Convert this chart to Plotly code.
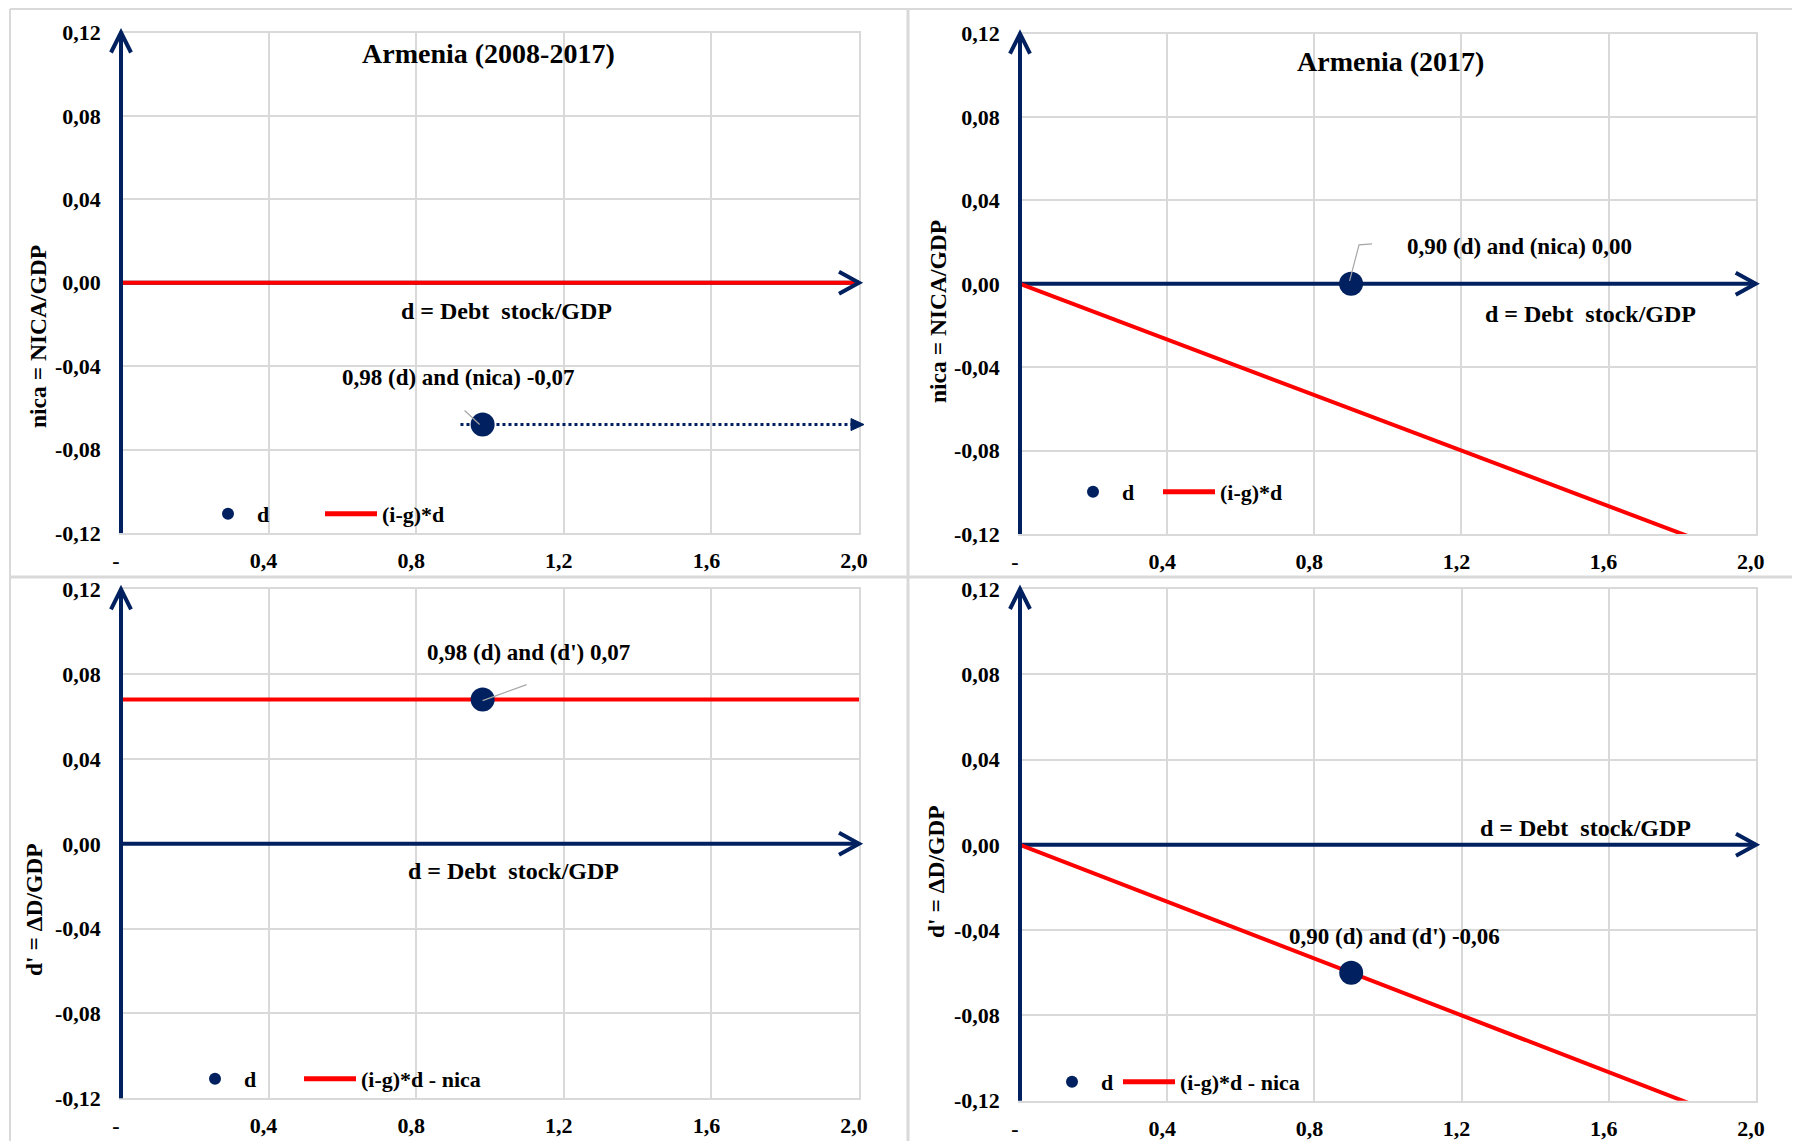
import plotly.graph_objects as go

# figure is placed by the browser with an 8px body margin
OFF = 8
FW, FH = 1800, 1141

# ---------------- data ----------------
x_tickvals = [0.0, 0.4, 0.8, 1.2, 1.6, 2.0]
x_ticktext = ["-", "0,4", "0,8", "1,2", "1,6", "2,0"]
y_tickvals = [-0.12, -0.08, -0.04, 0.0, 0.04, 0.08, 0.12]
y_ticktext = ["-0,12", "-0,08", "-0,04", "0,00", "0,04", "0,08", "0,12"]

line_x = [0.0, 2.0]

# Panel 1: Armenia (2008-2017), nica vs d
p1_d = [0.98]
p1_nica = [-0.068]
p1_line = [0.0, 0.0]            # (i-g)*d
# Panel 2: Armenia (2017), nica vs d
p2_d = [0.90]
p2_nica = [0.00]
p2_line = [0.0, -0.1333]        # (i-g)*d
# Panel 3: Armenia (2008-2017), d' vs d
p3_d = [0.98]
p3_dprime = [0.068]
p3_line = [0.068, 0.068]        # (i-g)*d - nica
# Panel 4: Armenia (2017), d' vs d
p4_d = [0.90]
p4_dprime = [-0.06]
p4_line = [0.0, -0.1333]        # (i-g)*d - nica

XR = [0.0, 2.0]
YR = [-0.12, 0.12]

NAVY = "#002060"
RED = "#ff0000"
GRID = "#d9d9d9"
FONT = "Liberation Serif"


def fx(v):
    return (v - XR[0]) / (XR[1] - XR[0])


def fy(v):
    return (v - YR[0]) / (YR[1] - YR[0])


def px(xp):
    return (xp - OFF) / FW


def py(yp):
    return 1 - (yp - OFF) / FH


def bold(size):
    return dict(family=FONT, size=size, color="black", weight="bold")


panels = [
    dict(n="", left=121, right=859, top=32.5, bottom=533,
         dx=p1_d, dy=p1_nica, ly=p1_line, lname="(i-g)*d",
         title="Armenia (2008-2017)", title_xy=(488, 54),
         ytitle="nica = NICA/GDP", ytitle_xy=(38, 337),
         dlabel_xy=(506, 311),
         plabel="0,98 (d) and (nica) -0,07", plabel_xy=(459, 377),
         leader=[(-3, 0), (-18, -14)],
         leg=dict(mx=228, ly=514, lx=325), lg=("legend", "legend2"), dotted=True),
    dict(n="2", left=1020, right=1755.7, top=33.7, bottom=534,
         dx=p2_d, dy=p2_nica, ly=p2_line, lname="(i-g)*d",
         title="Armenia (2017)", title_xy=(1390, 61),
         ytitle="nica = NICA/GDP", ytitle_xy=(938, 312),
         dlabel_xy=(1590, 314),
         plabel="0,90 (d) and (nica) 0,00", plabel_xy=(1519, 246),
         leader=[(-1.5, -3), (8, -39), (21, -40)],
         leg=dict(mx=1093, ly=492, lx=1163), lg=("legend3", "legend4"), dotted=False),
    dict(n="3", left=121, right=859, top=589.3, bottom=1098.3,
         dx=p3_d, dy=p3_dprime, ly=p3_line, lname="(i-g)*d - nica",
         title=None, title_xy=None,
         ytitle="d' = \u0394D/GDP", ytitle_xy=(34, 910),
         dlabel_xy=(514, 871),
         plabel="0,98 (d) and (d') 0,07", plabel_xy=(528, 652),
         leader=[(0, 1), (44, -15)],
         leg=dict(mx=215, ly=1079, lx=304), lg=("legend5", "legend6"), dotted=False),
    dict(n="4", left=1020, right=1756, top=589, bottom=1100.7,
         dx=p4_d, dy=p4_dprime, ly=p4_line, lname="(i-g)*d - nica",
         title=None, title_xy=None,
         ytitle="d' = \u0394D/GDP", ytitle_xy=(936, 872),
         dlabel_xy=(1585, 828),
         plabel="0,90 (d) and (d') -0,06", plabel_xy=(1394, 936),
         leader=None,
         leg=dict(mx=1072, ly=1082, lx=1123), lg=("legend7", "legend8"), dotted=False),
]

MK_ITEMW = 48   # legend symbol width for the marker entries
LN_ITEMW = 52   # legend symbol width for the line entries

fig = go.Figure()
shapes = []
annotations = []
layout = dict(
    width=FW, height=FH,
    margin=dict(l=0, r=0, t=0, b=0, pad=0, autoexpand=False),
    paper_bgcolor="white", plot_bgcolor="white",
    font=bold(22), showlegend=True,
)

for p in panels:
    n = p["n"]
    xa, ya = "x" + n, "y" + n
    lg_m, lg_l = p["lg"]
    # traces
    fig.add_trace(go.Scatter(
        x=line_x, y=p["ly"], mode="lines", name=p["lname"],
        line=dict(color=RED, width=4), xaxis=xa, yaxis=ya,
        legend=lg_l, hoverinfo="skip"))
    fig.add_trace(go.Scatter(
        x=p["dx"], y=p["dy"], mode="markers", name="d",
        marker=dict(color=NAVY, size=24), xaxis=xa, yaxis=ya,
        legend=lg_m))

    common = dict(showgrid=True, gridcolor=GRID, gridwidth=1.5,
                  zeroline=False, showline=True, linecolor=GRID, linewidth=1.5,
                  mirror=True, ticks="", tickfont=bold(22), fixedrange=True,
                  automargin=False)
    layout["xaxis" + n] = dict(
        domain=[px(p["left"]), px(p["right"])], range=XR, anchor=ya,
        tickmode="array", tickvals=x_tickvals, ticktext=x_ticktext,
        ticklabelstandoff=7, ticklabelshift=-5, **common)
    layout["yaxis" + n] = dict(
        domain=[py(p["bottom"]), py(p["top"])], range=YR, anchor=xa,
        tickmode="array", tickvals=y_tickvals, ticktext=y_ticktext,
        ticklabelstandoff=14, **common)

    lgd = p["leg"]
    layout[lg_m] = dict(
        orientation="h", x=px(lgd["mx"] - (MK_ITEMW / 2 + 5)), xanchor="left",
        y=py(lgd["ly"]), yanchor="middle", itemwidth=MK_ITEMW,
        itemsizing="constant", bgcolor="rgba(0,0,0,0)", font=bold(22))
    layout[lg_l] = dict(
        orientation="h", x=px(lgd["lx"] - 5), xanchor="left",
        y=py(lgd["ly"]), yanchor="middle", itemwidth=LN_ITEMW,
        itemsizing="constant", bgcolor="rgba(0,0,0,0)", font=bold(22))

    xd, yd = xa + " domain", ya + " domain"
    # vertical axis arrow at d = 0
    shapes.append(dict(type="line", xref=xd, yref=yd, x0=fx(0), x1=fx(0),
                       y0=0, y1=1, line=dict(color=NAVY, width=4), layer="above"))
    shapes.append(dict(type="path", xref=xd, yref=yd, xsizemode="pixel",
                       ysizemode="pixel", xanchor=fx(0), yanchor=1,
                       path="M -10,-20 L 0,0 L 10,-20",
                       line=dict(color=NAVY, width=4), layer="above"))
    # horizontal axis arrow at 0 (below the traces)
    shapes.append(dict(type="line", xref=xa, yref=ya, x0=XR[0], x1=XR[1],
                       y0=0, y1=0, line=dict(color=NAVY, width=4), layer="between"))
    shapes.append(dict(type="path", xref=xd, yref=yd, xsizemode="pixel",
                       ysizemode="pixel", xanchor=1, yanchor=fy(0),
                       path="M -20,11 L 0,0 L -20,-11",
                       line=dict(color=NAVY, width=4), layer="above"))

    if p["dotted"]:
        yv = fy(p["dy"][0])
        shapes.append(dict(type="line", xref=xd, yref=yd,
                           x0=fx(0.92), x1=0.995, y0=yv, y1=yv,
                           line=dict(color=NAVY, width=3, dash="dot"), layer="above"))
        shapes.append(dict(type="path", xref=xd, yref=yd, xsizemode="pixel",
                           ysizemode="pixel", xanchor=1.0, yanchor=yv,
                           path="M 5,0 L -8,6 L -8,-6 Z", fillcolor=NAVY,
                           line=dict(color=NAVY, width=1), layer="above"))

    if p["leader"]:
        pts = p["leader"]
        path = "M " + " L ".join(f"{a},{-b}" for a, b in pts)
        shapes.append(dict(type="path", xref=xa, yref=ya, xsizemode="pixel",
                           ysizemode="pixel", xanchor=p["dx"][0], yanchor=p["dy"][0],
                           path=path, line=dict(color="#a6a6a6", width=1.2),
                           layer="above"))

    if p["title"]:
        annotations.append(dict(text=p["title"], xref="paper", yref="paper",
                                x=px(p["title_xy"][0]), y=py(p["title_xy"][1]),
                                showarrow=False, xanchor="center", yanchor="middle",
                                font=bold(28)))
    annotations.append(dict(text=p["ytitle"], xref="paper", yref="paper",
                            x=px(p["ytitle_xy"][0]), y=py(p["ytitle_xy"][1]),
                            showarrow=False, textangle=-90,
                            xanchor="center", yanchor="middle", font=bold(23.5)))
    annotations.append(dict(text="d = Debt\u00a0 stock/GDP", xref="paper", yref="paper",
                            x=px(p["dlabel_xy"][0]), y=py(p["dlabel_xy"][1]),
                            showarrow=False, xanchor="center", yanchor="middle",
                            font=bold(24)))
    annotations.append(dict(text=p["plabel"], xref="paper", yref="paper",
                            x=px(p["plabel_xy"][0]), y=py(p["plabel_xy"][1]),
                            showarrow=False, xanchor="center", yanchor="middle",
                            font=bold(23)))

# panel frames / separators
sep = dict(color=GRID, width=3)
thin = dict(color=GRID, width=2)
shapes += [
    dict(type="line", xref="paper", yref="paper", x0=px(10), x1=px(908), y0=py(9), y1=py(9), line=thin),
    dict(type="line", xref="paper", yref="paper", x0=px(908), x1=1, y0=py(9), y1=py(9), line=thin),
    dict(type="line", xref="paper", yref="paper", x0=px(10), x1=px(10), y0=py(9), y1=0, line=thin),
    dict(type="line", xref="paper", yref="paper", x0=px(10), x1=1, y0=py(577), y1=py(577), line=sep),
    dict(type="line", xref="paper", yref="paper", x0=px(908), x1=px(908), y0=py(9), y1=0, line=sep),
]

layout["shapes"] = shapes
layout["annotations"] = annotations
fig.update_layout(**layout)

fig.write_html("out.html")
